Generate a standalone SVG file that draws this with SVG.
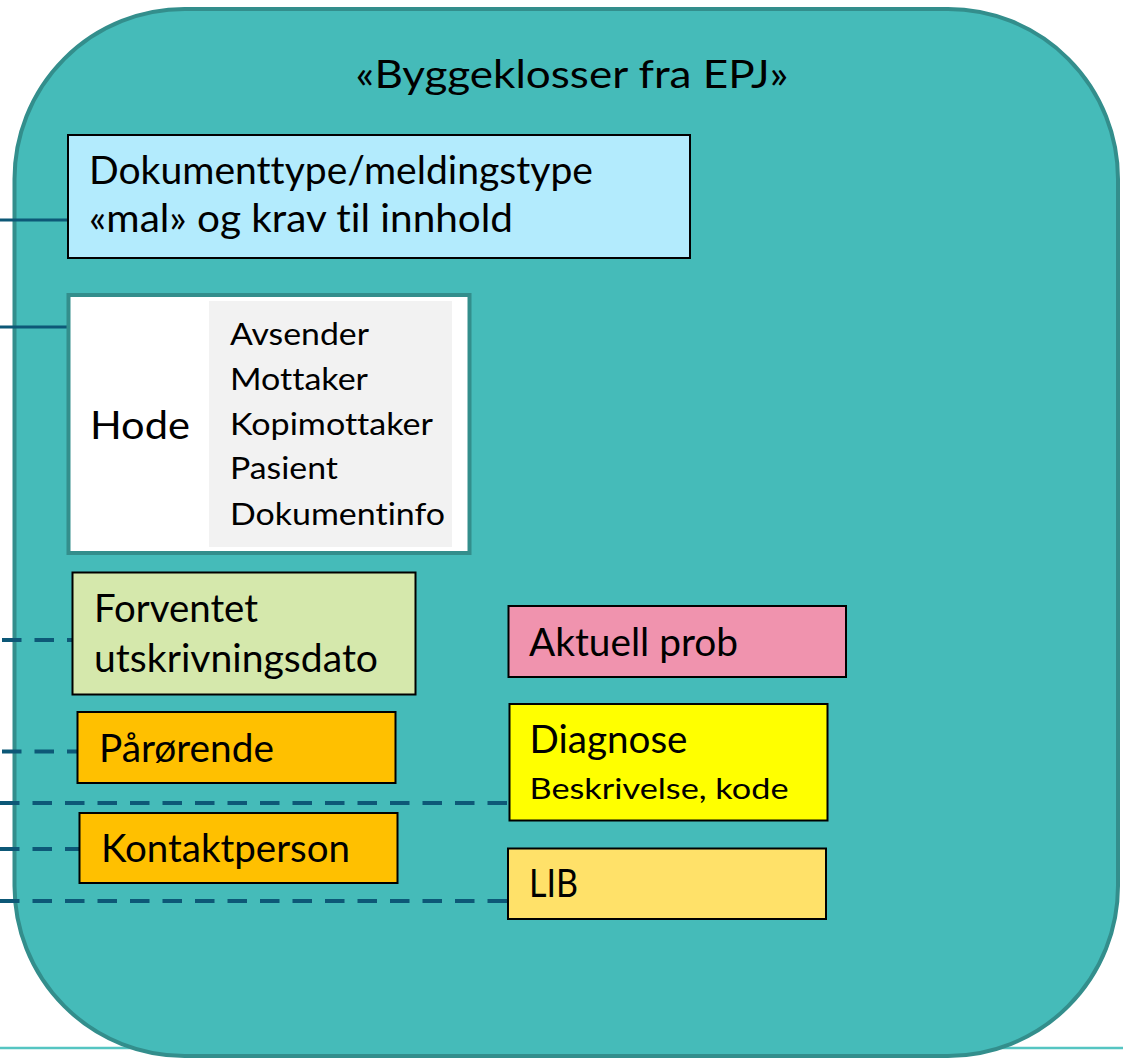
<svg xmlns="http://www.w3.org/2000/svg" width="1123" height="1058" viewBox="0 0 1123 1058">
<style>
text{font-family:Lato,"Liberation Sans",sans-serif;fill:#000;font-variant-ligatures:none;font-feature-settings:"liga" 0,"clig" 0}
.box{stroke:#000;stroke-width:2}
.main{font-size:38px}
.item{font-size:30.5px}
.small{font-size:28px}
.solid{stroke:#0D5877;stroke-width:3;fill:none}
.dash{stroke:#0D5877;stroke-width:4;fill:none;stroke-dasharray:19.5 13}
</style>
<line x1="0" y1="1048" x2="1123" y2="1048" stroke="#55C5C2" stroke-width="2.5"/>
<g id="container">
<rect x="14.5" y="9" width="1103.5" height="1047" rx="170" ry="170" fill="#45BBB9" stroke="#338E8C" stroke-width="4"/>
<text class="main" x="572" y="88" text-anchor="middle" textLength="433" lengthAdjust="spacingAndGlyphs">«Byggeklosser fra EPJ»</text>
</g>
<g id="connectors">
<line class="solid" x1="0" y1="220" x2="68" y2="220"/>
<line class="solid" x1="0" y1="327" x2="68" y2="327"/>
<line class="dash" x1="0" y1="640" x2="72" y2="640" stroke-dashoffset="-2"/>
<line class="dash" x1="0" y1="751.5" x2="77" y2="751.5" stroke-dashoffset="-2"/>
<line class="dash" x1="0" y1="803" x2="509" y2="803"/>
<line class="dash" x1="0" y1="849" x2="79" y2="849"/>
<line class="dash" x1="0" y1="901" x2="507" y2="901"/>
</g>
<g id="dokumenttype">
<rect class="box" x="68" y="135" width="622" height="123" fill="#B3EBFD"/>
<text class="main" x="89" y="184" textLength="504" lengthAdjust="spacingAndGlyphs">Dokumenttype/meldingstype</text>
<text class="main" x="89" y="232" textLength="424" lengthAdjust="spacingAndGlyphs">«mal» og krav til innhold</text>
</g>
<g id="hode">
<rect x="68.5" y="295" width="401" height="258" fill="#FFFFFF" stroke="#338E8C" stroke-width="4"/>
<rect x="209" y="301" width="243" height="246" fill="#F2F2F2"/>
<text class="main" x="90" y="439" textLength="100" lengthAdjust="spacingAndGlyphs">Hode</text>
<text class="item" x="230" y="345" textLength="139" lengthAdjust="spacingAndGlyphs">Avsender</text>
<text class="item" x="230" y="390" textLength="138" lengthAdjust="spacingAndGlyphs">Mottaker</text>
<text class="item" x="230" y="435" textLength="203" lengthAdjust="spacingAndGlyphs">Kopimottaker</text>
<text class="item" x="230" y="479" textLength="108" lengthAdjust="spacingAndGlyphs">Pasient</text>
<text class="item" x="230" y="525" textLength="215" lengthAdjust="spacingAndGlyphs">Dokumentinfo</text>
</g>
<g id="forventet">
<rect class="box" x="72.5" y="572.5" width="343" height="122" fill="#D5E8AC"/>
<text class="main" x="94" y="622" textLength="164" lengthAdjust="spacingAndGlyphs">Forventet</text>
<text class="main" x="94" y="672" textLength="284" lengthAdjust="spacingAndGlyphs">utskrivningsdato</text>
</g>
<g id="parorende">
<rect class="box" x="77.5" y="712" width="318" height="71" fill="#FFC000"/>
<text class="main" x="99" y="762" textLength="175" lengthAdjust="spacingAndGlyphs">Pårørende</text>
</g>
<g id="kontaktperson">
<rect class="box" x="79.5" y="813" width="318" height="70" fill="#FFC000"/>
<text class="main" x="101" y="862" textLength="249" lengthAdjust="spacingAndGlyphs">Kontaktperson</text>
</g>
<g id="aktuell">
<rect class="box" x="508.5" y="606" width="337.5" height="71" fill="#F093AE"/>
<text class="main" x="529" y="656" textLength="209" lengthAdjust="spacingAndGlyphs">Aktuell prob</text>
</g>
<g id="diagnose">
<rect class="box" x="509.5" y="704" width="318" height="116.5" fill="#FFFF00"/>
<text class="main" x="529.5" y="753" textLength="158" lengthAdjust="spacingAndGlyphs">Diagnose</text>
<text class="small" x="529.5" y="799" textLength="259" lengthAdjust="spacingAndGlyphs">Beskrivelse, kode</text>
</g>
<g id="lib">
<rect class="box" x="508" y="848.5" width="318" height="70.5" fill="#FFE169"/>
<text class="main" x="529" y="897" textLength="49" lengthAdjust="spacingAndGlyphs">LIB</text>
</g>
</svg>
